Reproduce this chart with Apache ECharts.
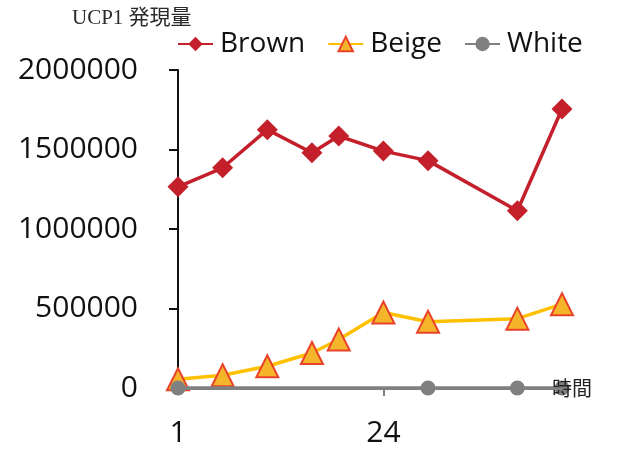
<!DOCTYPE html>
<html>
<head>
<meta charset="utf-8">
<title>UCP1 発現量</title>
<script src="https://cdn.jsdelivr.net/npm/echarts@6/dist/echarts.min.js"></script>
<style>
  html, body { margin: 0; padding: 0; background: #ffffff; }
  #chart { width: 620px; height: 450px; }
</style>
</head>
<body>
<div id="chart"></div>
<script>
// Sampling times (hours)
const hours = [1, 6, 11, 16, 19, 24, 29, 39, 44];
// UCP1 expression per tissue type
const brown = [1265000, 1385000, 1625000, 1480000, 1585000, 1490000, 1430000, 1115000, 1755000];
const beige = [55000, 80000, 137000, 220000, 305000, 475000, 417000, 436000, 527000];
const whiteHours = [1, 29, 39, 44];
const white = [0, 0, 0, 0];
// Axis tick labels
const xTickLabels = [1, 24];
const yTicks = [0, 500000, 1000000, 1500000, 2000000];

const pairs = (xs, ys) => xs.map((x, i) => [x, ys[i]]);

const chart = echarts.init(document.getElementById('chart'), null, { renderer: 'canvas' });

chart.setOption({
  animation: false,
  backgroundColor: '#ffffff',
  title: {
    text: 'UCP1 発現量',
    left: 72,
    top: 8,
    padding: 0,
    textStyle: {
      fontFamily: '"Liberation Serif", "Noto Sans CJK JP", serif',
      fontSize: 21,
      fontWeight: 'normal',
      color: '#2a2a2a'
    }
  },
  legend: {
    left: 177,
    top: 30,
    padding: 0,
    itemGap: 22,
    itemWidth: 35,
    itemHeight: 18,
    textStyle: {
      fontFamily: '"Open Sans", sans-serif',
      fontSize: 28,
      color: '#111111',
      padding: [0, 0, 0, 2]
    },
    data: ['Brown', 'Beige', 'White']
  },
  grid: {
    left: 178,
    right: 58,
    top: 70,
    bottom: 62,
    containLabel: false
  },
  xAxis: {
    type: 'value',
    min: 1,
    max: 44,
    z: 10,
    name: '時間',
    nameLocation: 'end',
    nameGap: -10,
    nameTextStyle: {
      fontFamily: '"Noto Sans CJK JP", sans-serif',
      fontSize: 20,
      color: '#222222',
      verticalAlign: 'middle',
      align: 'left'
    },
    axisLine: { show: true, lineStyle: { color: '#808080', width: 3 } },
    axisTick: {
      show: true,
      customValues: [24],
      length: 8,
      lineStyle: { color: '#808080', width: 2 }
    },
    axisLabel: {
      customValues: xTickLabels,
      margin: 30,
      fontFamily: '"Open Sans", sans-serif',
      fontSize: 30,
      color: '#111111'
    },
    splitLine: { show: false }
  },
  yAxis: {
    type: 'value',
    min: 0,
    max: 2000000,
    interval: 500000,
    axisLine: { show: true, lineStyle: { color: '#111111', width: 2 } },
    axisTick: {
      show: true,
      customValues: yTicks,
      length: 9,
      lineStyle: { color: '#111111', width: 2 }
    },
    axisLabel: {
      margin: 40,
      formatter: (v) => String(v),
      fontFamily: '"Open Sans", sans-serif',
      fontSize: 30,
      color: '#111111'
    },
    splitLine: { show: false }
  },
  series: [
    {
      name: 'Brown',
      type: 'line',
      data: pairs(hours, brown),
      symbol: 'diamond',
      symbolSize: 21,
      lineStyle: { color: '#c3202c', width: 3.5 },
      itemStyle: { color: '#c3202c', borderWidth: 0 },
      z: 3
    },
    {
      name: 'Beige',
      type: 'line',
      data: pairs(hours, beige),
      symbol: 'triangle',
      symbolSize: 22,
      lineStyle: { color: '#ffc000', width: 3.5 },
      itemStyle: { color: '#f5b52a', borderColor: '#e8432a', borderWidth: 2 },
      z: 4
    },
    {
      name: 'White',
      type: 'line',
      data: pairs(whiteHours, white),
      symbol: 'circle',
      symbolSize: 15,
      lineStyle: { color: '#808080', width: 3.5 },
      itemStyle: { color: '#808080', borderWidth: 0 },
      z: 5
    }
  ]
});
</script>
</body>
</html>
